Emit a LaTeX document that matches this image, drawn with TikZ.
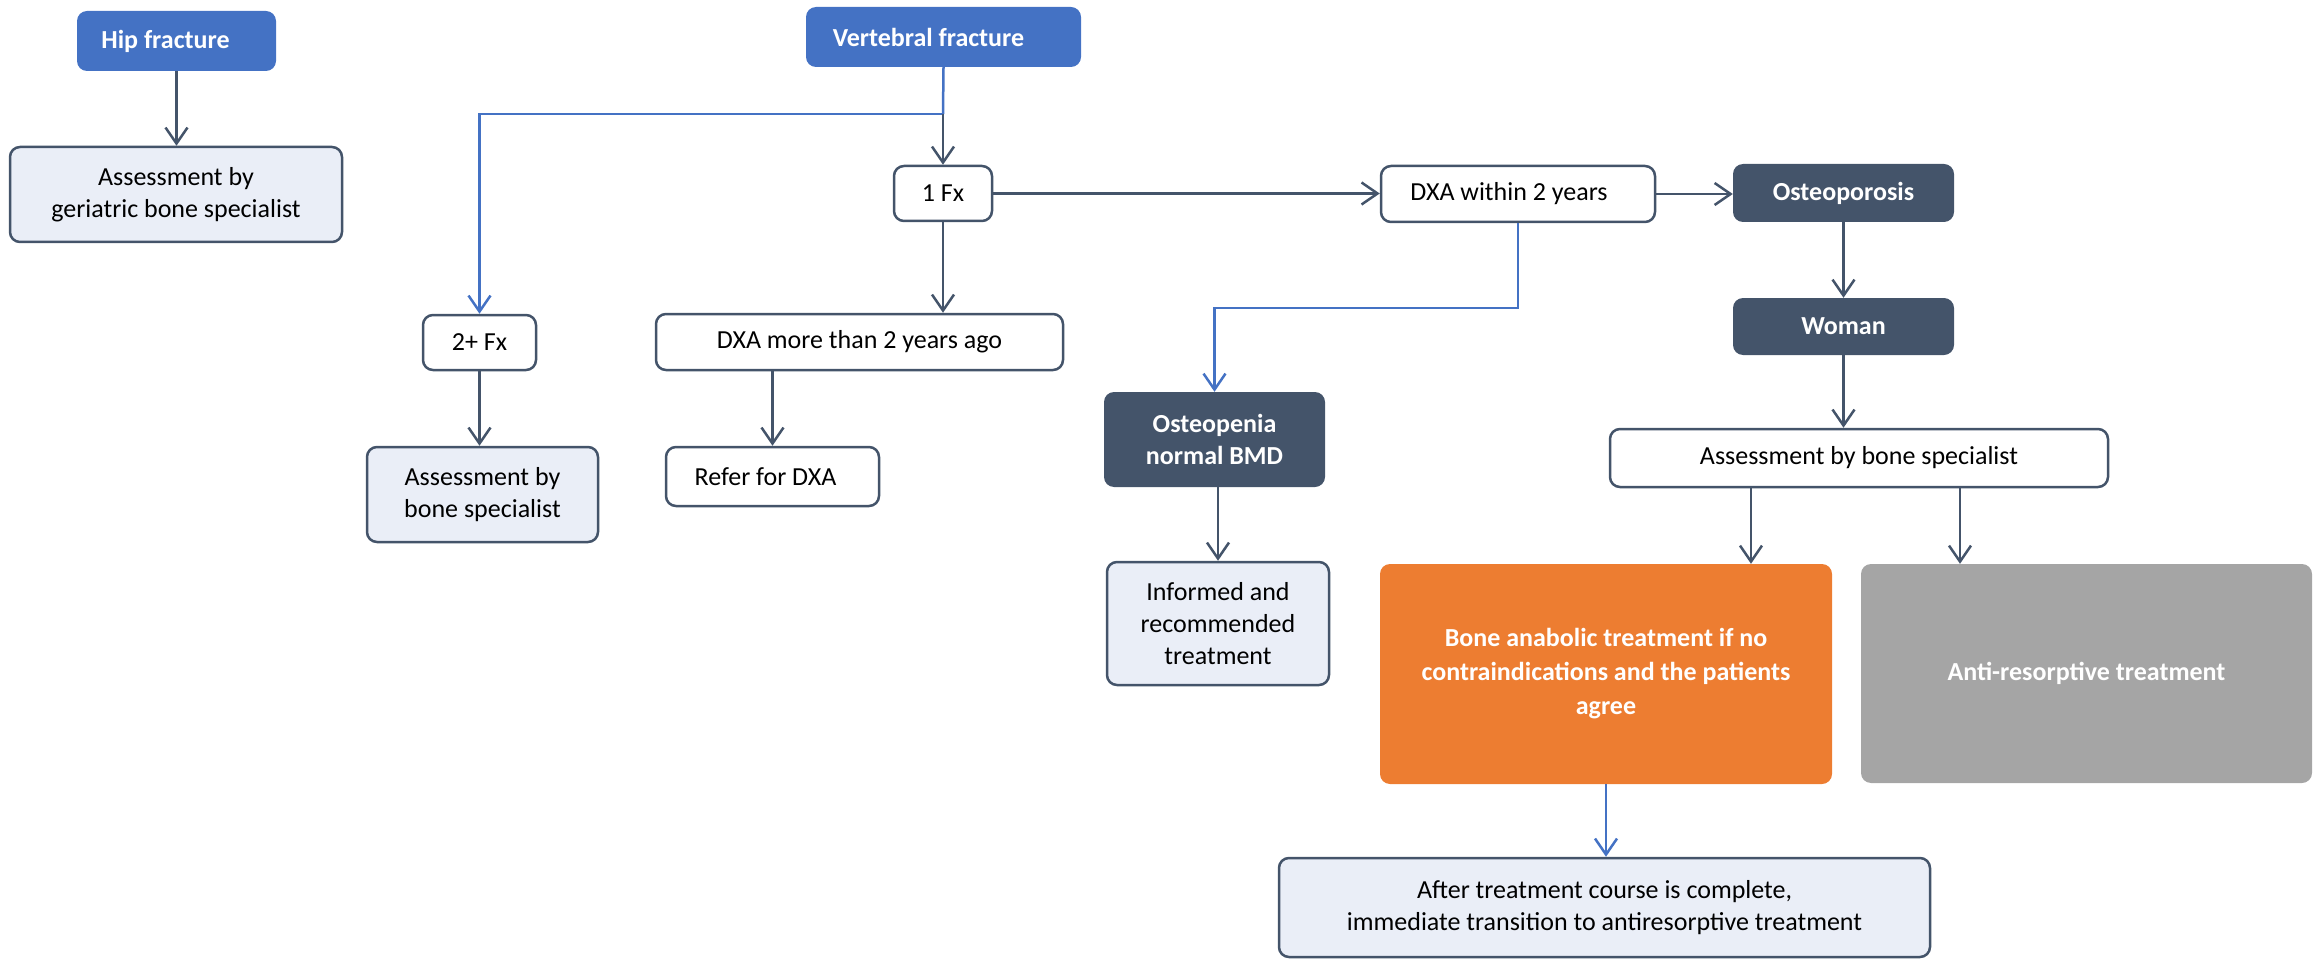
\documentclass[tikz,border=0pt]{standalone}
\usepackage{fontspec}
\setmainfont{Carlito}
\usetikzlibrary{arrows.meta}
\definecolor{vblue}{HTML}{4472C4}
\definecolor{slate}{HTML}{44546A}
\definecolor{vorange}{HTML}{ED7D31}
\definecolor{vgray}{HTML}{A5A5A5}
\definecolor{vlight}{HTML}{EAEEF7}
\tikzset{
  base/.style={rounded corners=10pt, inner sep=0pt, align=center, font=\fontsize{26}{32}\selectfont},
  bluebox/.style={base, fill=vblue, text=white, font=\fontsize{26}{32}\selectfont\bfseries},
  darkbox/.style={base, fill=slate, text=white, font=\fontsize{26}{32}\selectfont\bfseries},
  orangebox/.style={base, fill=vorange, text=white, font=\fontsize{26}{34}\selectfont\bfseries},
  graybox/.style={base, fill=vgray, text=white, font=\fontsize{26}{32}\selectfont\bfseries},
  whitebox/.style={base, draw=slate, line width=2.5pt, fill=white},
  lightbox/.style={base, draw=slate, line width=2.5pt, fill=vlight},
  arr/.style={draw=slate, line width=2.5pt, -{Straight Barb[length=16pt, width=22pt, line width=2.5pt]}},
  barr/.style={draw=vblue, line width=2.5pt, -{Straight Barb[length=16pt, width=22pt, line width=2.5pt]}},
  bline/.style={draw=vblue, line width=2.5pt},
}
\begin{document}
\begin{tikzpicture}[x=1pt, y=-1pt]
\useasboundingbox (0,0) rectangle (2321,960);

\node[bluebox, minimum width=199pt, minimum height=60pt] (hip) at (176.5,41) {\hspace*{-22pt}Hip fracture};
\node[lightbox, minimum width=332pt, minimum height=95pt] (geri) at (176,194.5) {Assessment by\\geriatric bone specialist};
\node[bluebox, minimum width=275pt, minimum height=60pt] (vert) at (943.5,37) {\hspace*{-30pt}Vertebral fracture};
\node[whitebox, minimum width=98pt, minimum height=55pt] (onefx) at (943,193.5) {1 Fx};
\node[whitebox, minimum width=113pt, minimum height=55pt] (twofx) at (479.5,342.5) {2+ Fx};
\node[lightbox, minimum width=231pt, minimum height=95pt] (assessL) at (482.5,494.5) {Assessment by\\bone specialist};
\node[whitebox, minimum width=407pt, minimum height=56pt] (dxaold) at (859.5,342) {DXA more than 2 years ago};
\node[whitebox, minimum width=213pt, minimum height=59pt] (refer) at (772.5,476.5) {\hspace*{-14pt}Refer for DXA};
\node[whitebox, minimum width=274pt, minimum height=56pt] (dxanew) at (1518,194) {\hspace*{-18pt}DXA within 2 years};
\node[darkbox, minimum width=221pt, minimum height=58pt] (osteo) at (1843.5,193) {Osteoporosis};
\node[darkbox, minimum width=221pt, minimum height=57pt] (woman) at (1843.5,326.5) {Woman};
\node[darkbox, minimum width=221pt, minimum height=95pt] (openia) at (1214.5,439.5) {Osteopenia\\normal BMD};
\node[lightbox, minimum width=222pt, minimum height=123pt] (informed) at (1218,623.5) {Informed and\\recommended\\treatment};
\node[whitebox, minimum width=498pt, minimum height=58pt] (assessR) at (1859,458) {Assessment by bone specialist};
\node[orangebox, minimum width=452pt, minimum height=220pt] (anabolic) at (1606,674) {Bone anabolic treatment if no\\contraindications and the patients\\agree};
\node[graybox, minimum width=451pt, minimum height=219pt] (anti) at (2086.5,673.5) {Anti-resorptive treatment};
\node[lightbox, minimum width=651pt, minimum height=99pt] (after) at (1604.5,907.5) {After treatment course is complete,\\immediate transition to antiresorptive treatment};

\coordinate (j1) at (943,114);
\coordinate (j2) at (1300,308);
\coordinate (a1) at (1751,0);
\coordinate (a2) at (1960,0);

\draw[arr] (hip.south) -- (hip.south |- geri.north);
\draw[bline] (vert.south) -- (j1);
\draw[barr] (j1) -| (twofx.north);
\draw[arr] (j1) -- (onefx.north);
\draw[arr] (onefx.east) -- (onefx.east -| dxanew.west);
\draw[arr] (onefx.south) -- (onefx.south |- dxaold.north);
\draw[arr] (refer.north |- dxaold.south) -- (refer.north);
\draw[arr] (twofx.south) -- (twofx.south |- assessL.north);
\draw[arr] (dxanew.east) -- (dxanew.east -| osteo.west);
\draw[barr] (dxanew.south) |- (j2) -| (openia.north);
\draw[arr] (osteo.south) -- (osteo.south |- woman.north);
\draw[arr] (woman.south) -- (woman.south |- assessR.north);
\draw[arr] (informed.north |- openia.south) -- (informed.north);
\draw[arr] (a1 |- assessR.south) -- (a1 |- anabolic.north);
\draw[arr] (a2 |- assessR.south) -- (a2 |- anti.north);
\draw[barr] (anabolic.south) -- (anabolic.south |- after.north);
\end{tikzpicture}
\end{document}
